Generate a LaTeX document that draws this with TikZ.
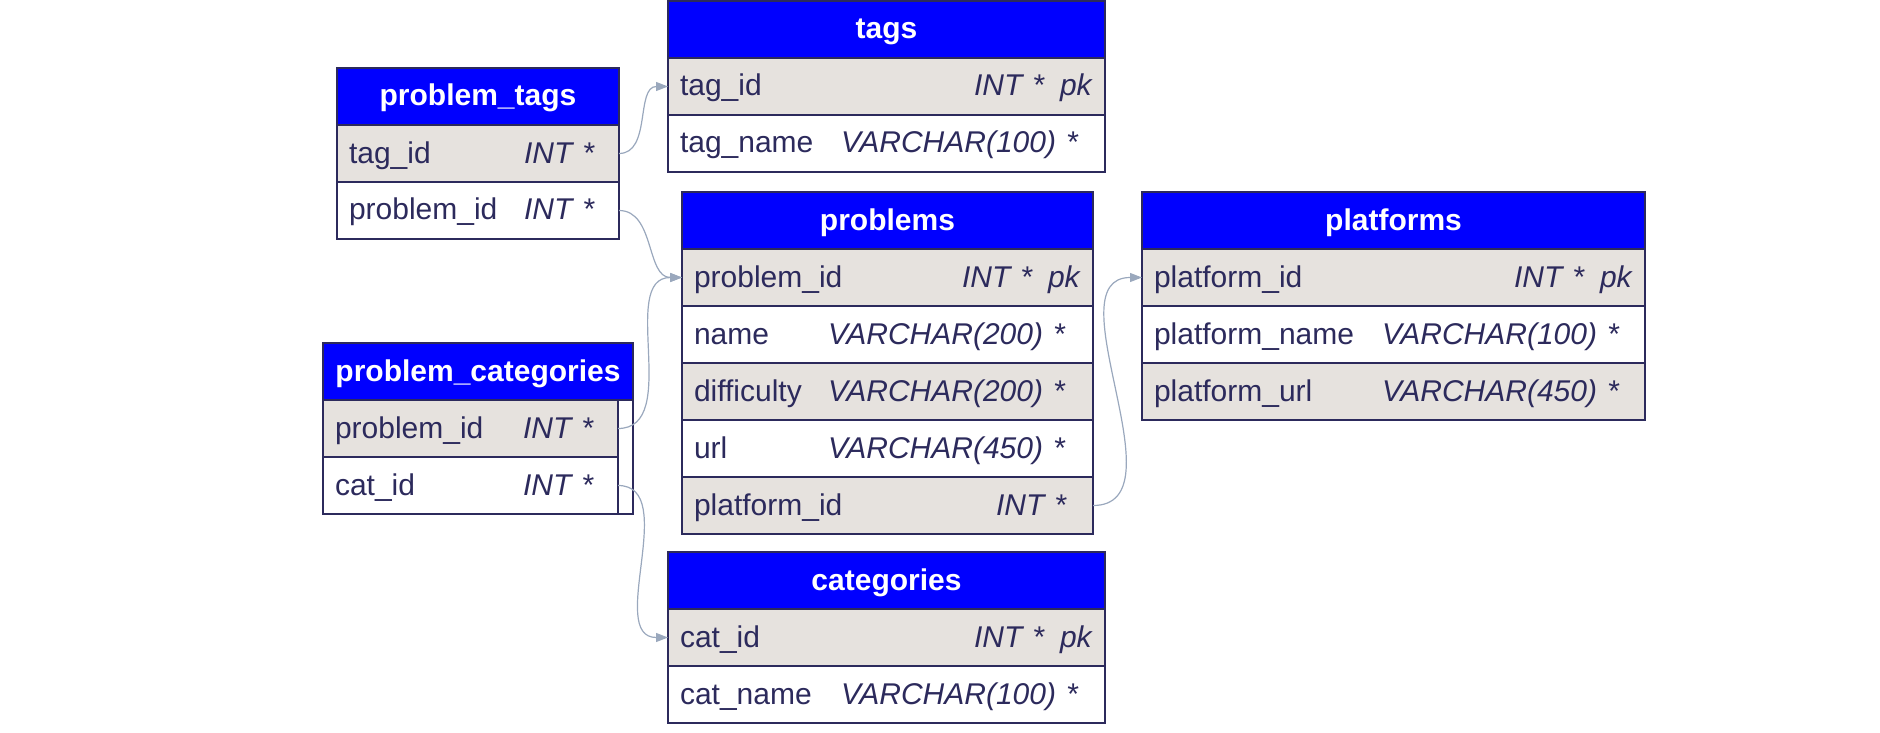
\documentclass[tikz,border=0pt]{standalone}
\usepackage{fontspec}
\setmainfont{Liberation Sans}
\usetikzlibrary{positioning}
\usetikzlibrary{arrows.meta}

\definecolor{hdblue}{HTML}{0000FF}
\definecolor{rowgray}{HTML}{E6E2DE}
\definecolor{navy}{HTML}{2C2A5C}
\definecolor{linkgray}{HTML}{9AA8BD}

\tikzset{
	tbl/.style={draw=navy, line width=0.6pt, rectangle, outer sep=0pt, inner xsep=6pt, inner ysep=0pt,
		minimum height=28.5pt, text height=10pt, text depth=0.5pt, font=\fontsize{15}{18}\selectfont},
	head/.style={tbl, fill=hdblue, text=white, font=\fontsize{15}{18}\selectfont\bfseries},
	oddrow/.style={tbl, fill=rowgray, text=navy, align=left},
	evenrow/.style={tbl, fill=white, text=navy, align=left},
	frame/.style={draw=navy, line width=1.1pt},
	link/.style={draw=linkgray, line width=0.6pt, -{Triangle[length=6pt,width=4.5pt]}, out=0, in=180}
}

\begin{document}
\begin{tikzpicture}[x=0.5pt, y=-0.5pt]
		\useasboundingbox (0,0) rectangle (1880,733);
		% tags
		\node [head, minimum width=218.5pt, anchor=north west] (tags) at (668,1) {tags};
		\node [oddrow, text width=206.5pt, below=0pt of tags] (tags-id) {tag\_id\hfill\textit{INT *\hspace{8pt}pk}};
		\node [evenrow, text width=206.5pt, below=0pt of tags-id] (tags-name) {\makebox[80.5pt][l]{tag\_name}\textit{VARCHAR(100) *}};
		\draw [frame] (tags.north west) rectangle (tags-name.south east);
		% problem_tags
		\node [head, minimum width=141pt, anchor=north west] (ptags) at (337,68) {problem\_tags};
		\node [oddrow, text width=129pt, below=0pt of ptags] (ptags-tag) {\makebox[87.5pt][l]{tag\_id}\textit{INT *}};
		\node [evenrow, text width=129pt, below=0pt of ptags-tag] (ptags-pid) {\makebox[87.5pt][l]{problem\_id}\textit{INT *}};
		\draw [frame] (ptags.north west) rectangle (ptags-pid.south east);
		% problems
		\node [head, minimum width=205.5pt, anchor=north west] (prob) at (682,192) {problems};
		\node [oddrow, text width=193.5pt, below=0pt of prob] (prob-id) {problem\_id\hfill\textit{INT *\hspace{8pt}pk}};
		\node [evenrow, text width=193.5pt, below=0pt of prob-id] (prob-name) {\makebox[67pt][l]{name}\textit{VARCHAR(200) *}};
		\node [oddrow, text width=193.5pt, below=0pt of prob-name] (prob-diff) {\makebox[67pt][l]{difficulty}\textit{VARCHAR(200) *}};
		\node [evenrow, text width=193.5pt, below=0pt of prob-diff] (prob-url) {\makebox[67pt][l]{url}\textit{VARCHAR(450) *}};
		\node [oddrow, text width=193.5pt, below=0pt of prob-url] (prob-plat) {\makebox[151pt][l]{platform\_id}\textit{INT *}};
		\draw [frame] (prob.north west) rectangle (prob-plat.south east);
		% platforms
		\node [head, minimum width=251.5pt, anchor=north west] (plat) at (1142,192) {platforms};
		\node [oddrow, text width=239.5pt, below=0pt of plat] (plat-id) {platform\_id\hfill\textit{INT *\hspace{8pt}pk}};
		\node [evenrow, text width=239.5pt, below=0pt of plat-id] (plat-name) {\makebox[114pt][l]{platform\_name}\textit{VARCHAR(100) *}};
		\node [oddrow, text width=239.5pt, below=0pt of plat-name] (plat-url) {\makebox[114pt][l]{platform\_url}\textit{VARCHAR(450) *}};
		\draw [frame] (plat.north west) rectangle (plat-url.south east);
		% problem_categories
		\node [head, minimum width=155pt, anchor=north west] (pcat) at (323,343) {problem\_categories};
		\node [oddrow, text width=135.5pt, below=0pt of pcat.south west, anchor=north west] (pcat-pid) {\makebox[94pt][l]{problem\_id}\textit{INT *}};
		\node [evenrow, text width=135.5pt, below=0pt of pcat-pid] (pcat-cat) {\makebox[94pt][l]{cat\_id}\textit{INT *}};
		\draw [frame] (pcat.north west) rectangle (pcat.east |- pcat-cat.south);
		% categories
		\node [head, minimum width=218.5pt, anchor=north west] (cat) at (668,552) {categories};
		\node [oddrow, text width=206.5pt, below=0pt of cat] (cat-id) {cat\_id\hfill\textit{INT *\hspace{8pt}pk}};
		\node [evenrow, text width=206.5pt, below=0pt of cat-id] (cat-name) {\makebox[80.5pt][l]{cat\_name}\textit{VARCHAR(100) *}};
		\draw [frame] (cat.north west) rectangle (cat-name.south east);
		% links
		\draw [link] (ptags-tag.east) to (tags-id.west);
		\draw [link] (ptags-pid.east) to (prob-id.west);
		\draw [link] (pcat-pid.east) to (prob-id.west);
		\draw [link] (pcat-cat.east) to (cat-id.west);
		\draw [link] (prob-plat.east) to (plat-id.west);
	\end{tikzpicture}
\end{document}
